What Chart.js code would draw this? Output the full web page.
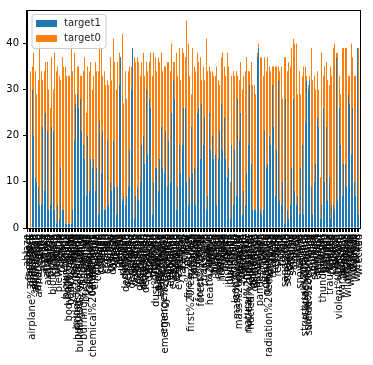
<!DOCTYPE html>
<html>
<head>
<meta charset="utf-8">
<script src="https://cdn.jsdelivr.net/npm/chart.js@4.4.0/dist/chart.umd.min.js"></script>
<style>
  html, body { margin: 0; padding: 0; background: #fff; }
</style>
</head>
<body>
<canvas id="myChart" width="373" height="365"></canvas>
<script>
// keywords (x categories)
const keywords = [
  "ablaze", "accident", "aftershock", "airplane%20accident", "ambulance", "annihilated", "annihilation", "apocalypse", "armageddon", "army",
  "arson", "arsonist", "attack", "attacked", "avalanche", "battle", "bioterror", "bioterrorism", "blaze", "blazing",
  "bleeding", "blew%20up", "blight", "blizzard", "blood", "bloody", "blown%20up", "body%20bag", "body%20bagging", "body%20bags",
  "bomb", "bombed", "bombing", "bridge%20collapse", "buildings%20burning", "buildings%20on%20fire", "burned", "burning", "burning%20buildings", "bush%20fires",
  "casualties", "casualty", "catastrophe", "catastrophic", "chemical%20emergency", "cliff%20fall", "collapse", "collapsed", "collide", "collided",
  "collision", "crash", "crashed", "crush", "crushed", "curfew", "cyclone", "damage", "danger", "dead",
  "death", "deaths", "debris", "deluge", "deluged", "demolish", "demolished", "demolition", "derail", "derailed",
  "derailment", "desolate", "desolation", "destroy", "destroyed", "destruction", "detonate", "detonation", "devastated", "devastation",
  "disaster", "displaced", "drought", "drown", "drowned", "drowning", "dust%20storm", "earthquake", "electrocute", "electrocuted",
  "emergency", "emergency%20plan", "emergency%20services", "engulfed", "epicentre", "evacuate", "evacuated", "evacuation", "explode", "exploded",
  "explosion", "eyewitness", "famine", "fatal", "fatalities", "fatality", "fear", "fire", "fire%20truck", "first%20responders",
  "flames", "flattened", "flood", "flooding", "floods", "forest%20fire", "forest%20fires", "hail", "hailstorm", "harm",
  "hazard", "hazardous", "heat%20wave", "hellfire", "hijack", "hijacked", "hijacker", "hijacking", "hostage", "hostages",
  "hurricane", "injured", "injuries", "injury", "inundated", "inundation", "landslide", "lava", "lightning", "loud%20bang",
  "mass%20murder", "mass%20murderer", "massacre", "mayhem", "meltdown", "military", "mudslide", "natural%20disaster", "nuclear%20disaster", "nuclear%20reactor",
  "obliterate", "obliterated", "obliteration", "oil%20spill", "outbreak", "pandemonium", "panic", "panicking", "police", "quarantine",
  "quarantined", "radiation%20emergency", "rainstorm", "razed", "refugees", "rescue", "rescued", "rescuers", "riot", "rioting",
  "rubble", "ruin", "sandstorm", "screamed", "screaming", "screams", "seismic", "sinkhole", "sinking", "siren",
  "sirens", "smoke", "snowstorm", "storm", "stretcher", "structural%20failure", "suicide%20bomb", "suicide%20bomber", "suicide%20bombing", "sunk",
  "survive", "survived", "survivors", "terrorism", "terrorist", "threat", "thunder", "thunderstorm", "tornado", "tragedy",
  "trapped", "trauma", "traumatised", "trouble", "tsunami", "twister", "typhoon", "upheaval", "violent%20storm", "volcano",
  "war%20zone", "weapon", "weapons", "whirlwind", "wild%20fires", "wildfire", "windstorm", "wounded", "wounds", "wreck",
  "wreckage", "wrecked"
];

// counts with target == 1
const target1 = [
  0, 0, 0, 30, 20, 11, 10, 9, 5, 5,
  22, 8, 25, 21, 4, 5, 22, 21, 4, 1,
  5, 2, 13, 4, 4, 1, 1, 1, 1, 1,
  4, 19, 27, 29, 26, 28, 21, 18, 15, 7,
  20, 8, 15, 13, 15, 8, 13, 3, 23, 12,
  21, 4, 4, 19, 5, 10, 8, 19, 9, 3,
  9, 31, 37, 6, 7, 5, 7, 9, 17, 30,
  39, 2, 7, 9, 6, 10, 18, 20, 14, 30,
  16, 28, 26, 3, 10, 13, 13, 8, 15, 22,
  13, 12, 21, 9, 19, 10, 25, 32, 28, 4,
  9, 18, 12, 18, 26, 26, 10, 5, 11, 22,
  12, 13, 5, 25, 26, 15, 27, 18, 24, 4,
  7, 25, 17, 20, 15, 16, 5, 15, 21, 27,
  17, 24, 15, 11, 13, 2, 18, 5, 17, 7,
  28, 19, 25, 3, 8, 5, 12, 18, 31, 14,
  4, 4, 4, 37, 39, 4, 3, 4, 21, 13,
  14, 20, 18, 31, 22, 7, 17, 32, 6, 5,
  10, 1, 28, 4, 2, 5, 13, 28, 8, 5,
  7, 3, 13, 18, 3, 23, 32, 30, 32, 9,
  3, 10, 14, 24, 22, 2, 5, 26, 10, 22,
  6, 11, 2, 5, 5, 4, 37, 6, 26, 18,
  7, 14, 14, 9, 29, 27, 16, 26, 10, 7,
  39, 3
];

// counts with target == 0
const target0 = [
  0, 0, 34, 5, 18, 23, 19, 23, 37, 29,
  10, 26, 11, 15, 26, 21, 15, 9, 34, 33,
  30, 31, 19, 33, 31, 34, 32, 32, 32, 40,
  30, 19, 2, 6, 9, 5, 12, 16, 22, 18,
  15, 26, 21, 17, 18, 28, 21, 31, 17, 27,
  12, 30, 27, 13, 26, 27, 24, 22, 27, 27,
  27, 7, 0, 36, 20, 29, 21, 25, 18, 5,
  0, 35, 29, 28, 30, 23, 18, 18, 19, 6,
  18, 8, 12, 30, 28, 24, 21, 29, 21, 16,
  21, 23, 14, 27, 17, 24, 15, 4, 8, 34,
  24, 21, 20, 21, 12, 11, 35, 35, 22, 7,
  27, 22, 29, 13, 10, 22, 5, 17, 8, 37,
  27, 10, 17, 14, 18, 17, 30, 17, 10, 10,
  21, 11, 18, 27, 22, 8, 15, 29, 16, 27,
  5, 13, 11, 27, 25, 29, 25, 16, 3, 22,
  27, 27, 25, 1, 1, 33, 34, 29, 16, 21,
  23, 15, 16, 4, 13, 28, 18, 3, 28, 30,
  18, 36, 9, 30, 34, 30, 26, 13, 32, 35,
  22, 31, 16, 15, 32, 12, 1, 1, 1, 30,
  29, 23, 16, 10, 8, 9, 33, 7, 25, 14,
  26, 20, 33, 28, 34, 36, 1, 32, 7, 11,
  32, 25, 25, 30, 4, 6, 24, 11, 23, 26,
  0, 36
];

const yTicks = [0, 10, 20, 30, 40];
const FONT = "DejaVu Sans";

// snap the thin bars onto whole pixels, like matplotlib does
const snapBars = {
  id: "snapBars",
  afterDatasetsUpdate(chart) {
    chart.data.datasets.forEach((ds, k) => {
      chart.getDatasetMeta(k).data.forEach((bar) => {
        bar.x = Math.floor(bar.x) + 0.5;
        bar.width = 1;
      });
    });
  }
};

// frame around the plot plus a matplotlib-like legend inside the axes
const frameAndLegend = {
  id: "frameAndLegend",
  afterDraw(chart) {
    const { ctx, chartArea } = chart;
    const a = chartArea;
    ctx.save();
    ctx.strokeStyle = "#000";
    ctx.lineWidth = 1;
    ctx.strokeRect(Math.round(a.left) - 0.5, Math.round(a.top) + 0.5,
                   Math.round(a.right - a.left) + 1, Math.round(a.bottom - a.top));

    // legend box
    const bx = a.left + 5, by = a.top + 4.5, bw = 74, bh = 34, r = 3;
    ctx.beginPath();
    ctx.moveTo(bx + r, by);
    ctx.arcTo(bx + bw, by, bx + bw, by + bh, r);
    ctx.arcTo(bx + bw, by + bh, bx, by + bh, r);
    ctx.arcTo(bx, by + bh, bx, by, r);
    ctx.arcTo(bx, by, bx + bw, by, r);
    ctx.closePath();
    ctx.fillStyle = "rgba(255,255,255,0.8)";
    ctx.fill();
    ctx.strokeStyle = "#cccccc";
    ctx.stroke();

    ctx.font = "10px '" + FONT + "'";
    ctx.textBaseline = "middle";
    chart.data.datasets.forEach((ds, k) => {
      const py = by + 5.5 + k * 15;
      ctx.fillStyle = ds.backgroundColor;
      ctx.fillRect(bx + 4, py, 21, 7);
      ctx.fillStyle = "#262626";
      ctx.fillText(ds.label, bx + 32, py + 3.5);
    });
    ctx.restore();
  }
};

const ctx = document.getElementById("myChart");

new Chart(ctx, {
  type: "bar",
  data: {
    labels: keywords,
    datasets: [
      {
        label: "target1",
        data: target1,
        backgroundColor: "#1f77b4",
        barPercentage: 0.5,
        categoryPercentage: 1.0,
        inflateAmount: 0,
      },
      {
        label: "target0",
        data: target0,
        backgroundColor: "#ff7f0e",
        barPercentage: 0.5,
        categoryPercentage: 1.0,
        inflateAmount: 0,
      },
    ],
  },
  options: {
    responsive: false,
    animation: false,
    layout: { padding: { top: 10, right: 11, left: 0, bottom: 0 } },
    plugins: {
      legend: { display: false },
      tooltip: { enabled: false },
    },
    scales: {
      x: {
        stacked: true,
        ticks: {
          autoSkip: false,
          minRotation: 90,
          maxRotation: 90,
          padding: 2,
          color: "#000",
          font: { family: FONT, size: 10 },
        },
        grid: {
          offset: false,
          drawOnChartArea: false,
          drawTicks: true,
          tickLength: 4,
          color: "#000",
        },
        border: { display: true, color: "#000" },
        afterFit: (scale) => { scale.height = 137; },
      },
      y: {
        stacked: true,
        min: 0,
        max: 47.25,
        ticks: {
          stepSize: 10,
          padding: 4,
          color: "#000",
          font: { family: FONT, size: 10 },
        },
        afterBuildTicks: (scale) => {
          scale.ticks = yTicks.map((v) => ({ value: v }));
        },
        grid: {
          drawOnChartArea: false,
          drawTicks: true,
          tickLength: 4,
          color: "#000",
        },
        border: { display: true, color: "#000" },
        afterFit: (scale) => { scale.width = 27; },
      },
    },
  },
  plugins: [snapBars, frameAndLegend],
});
</script>
</body>
</html>
